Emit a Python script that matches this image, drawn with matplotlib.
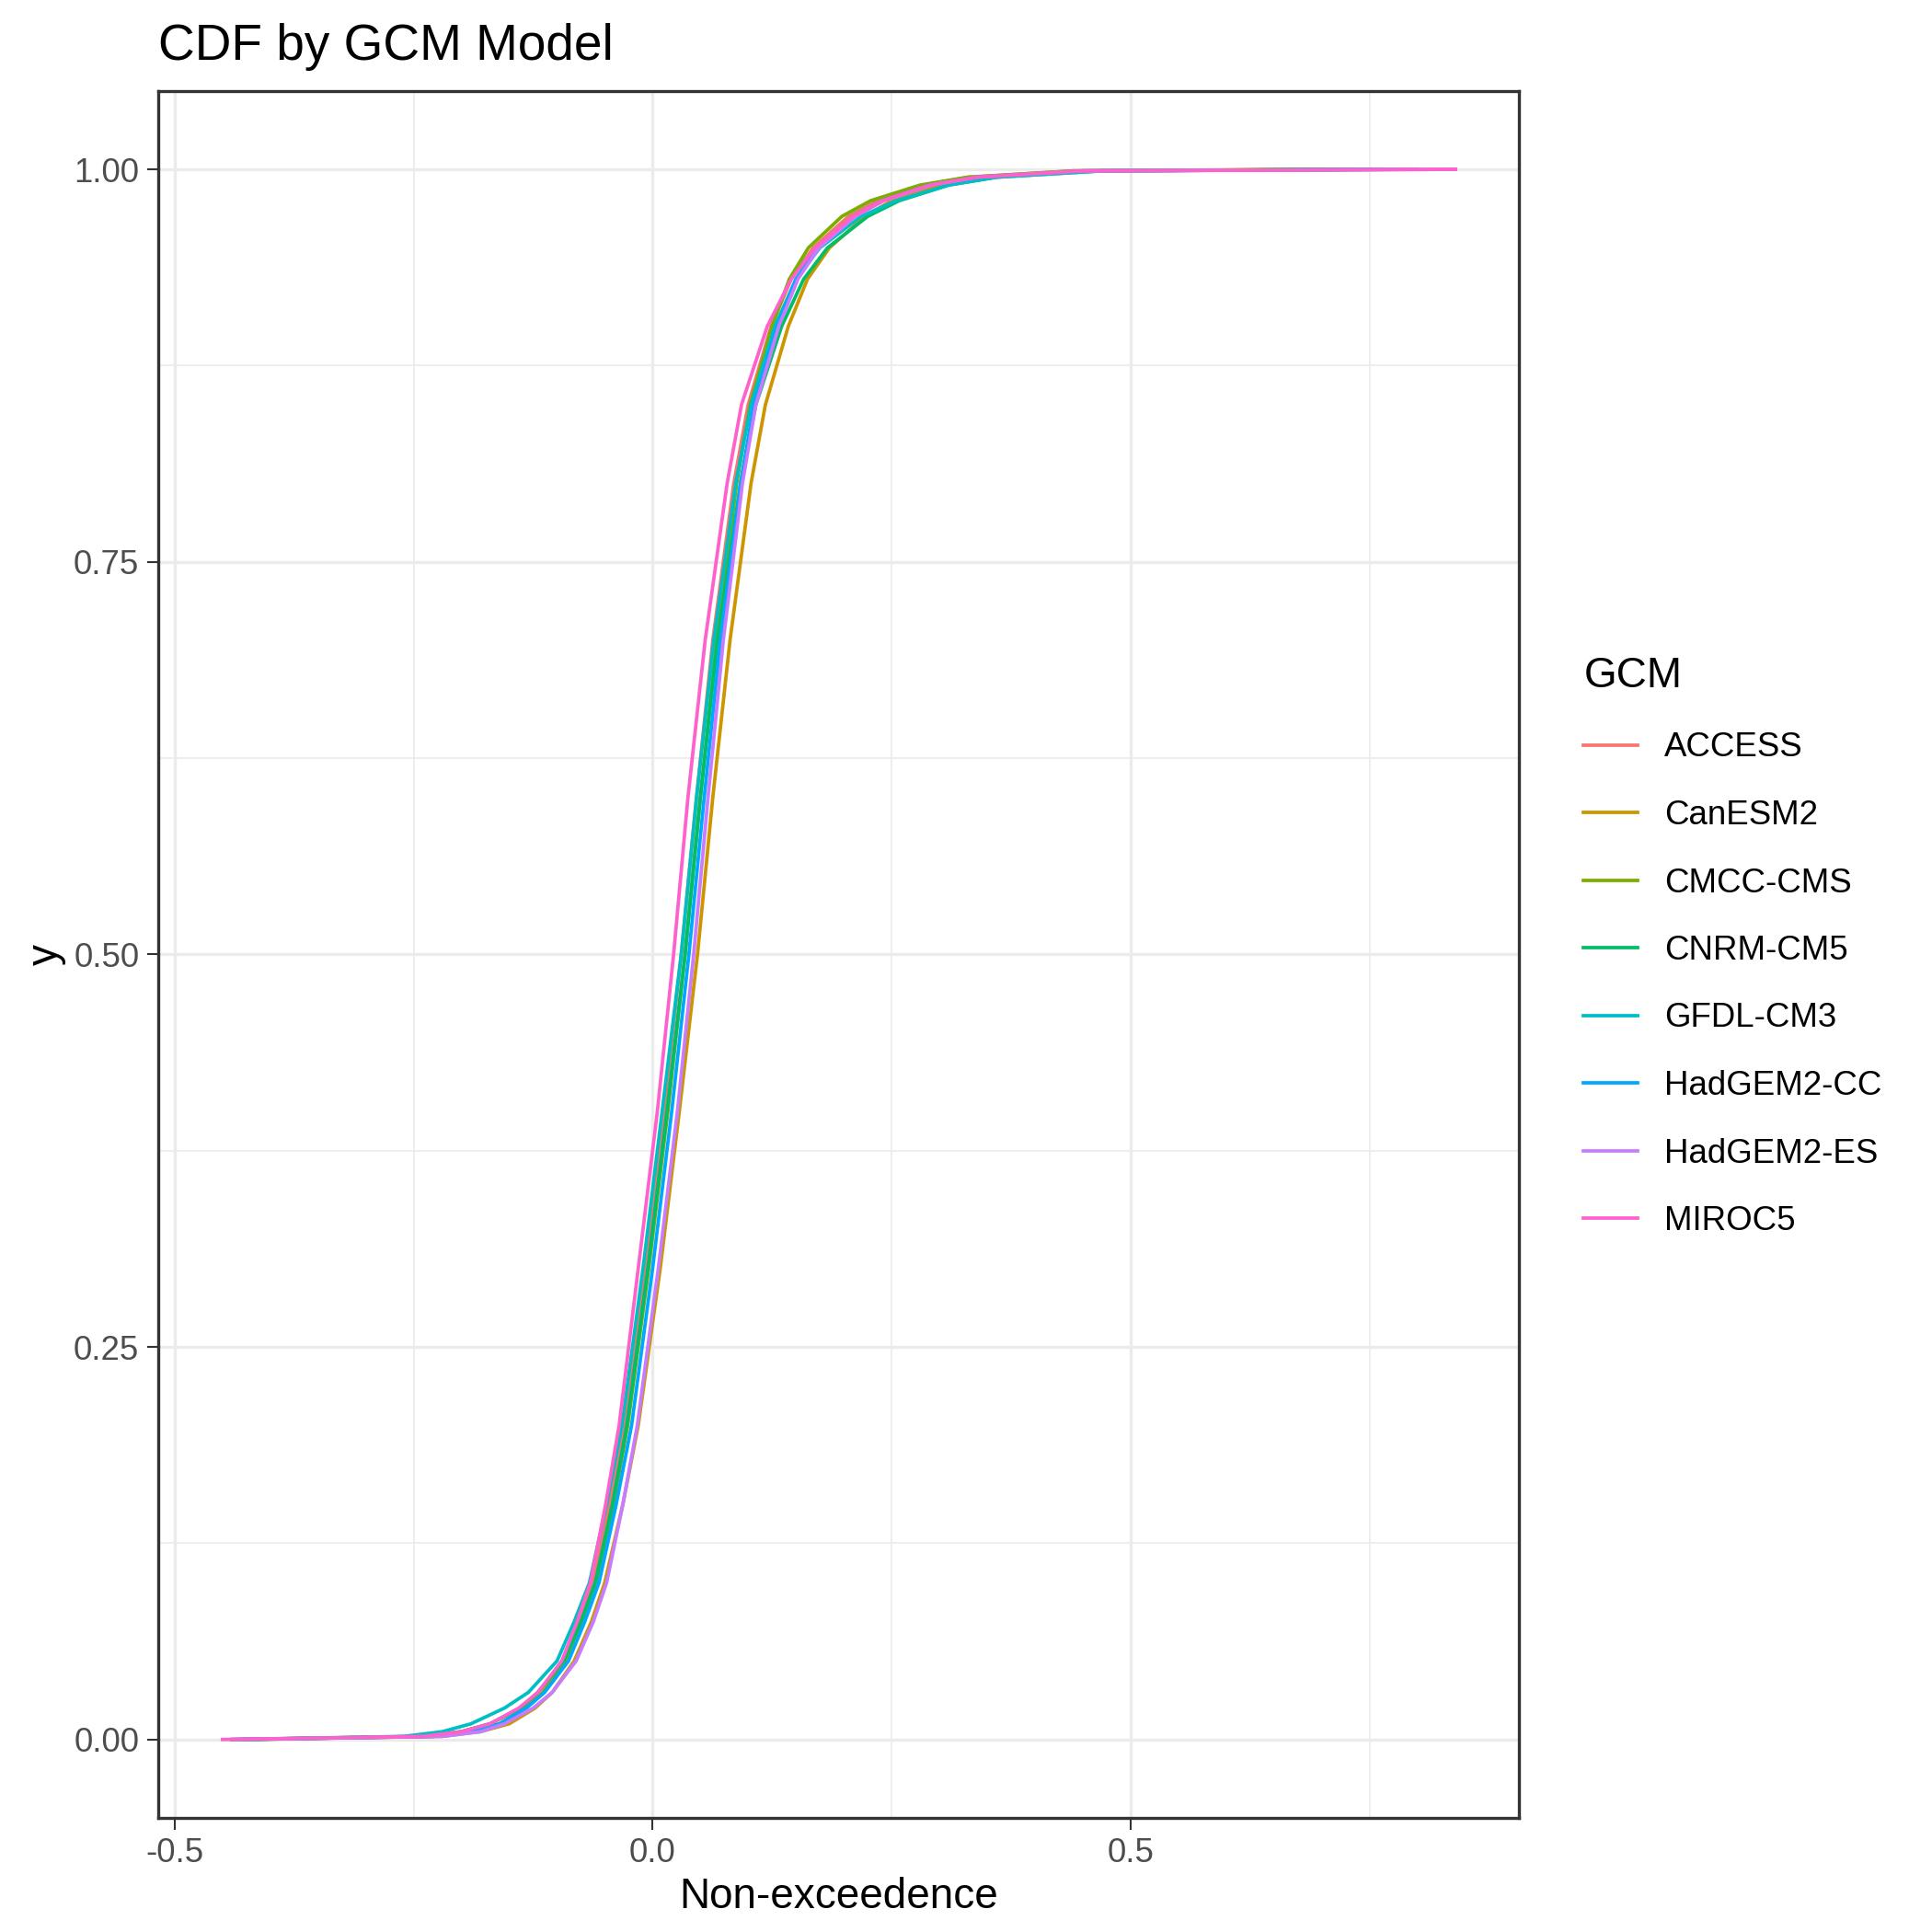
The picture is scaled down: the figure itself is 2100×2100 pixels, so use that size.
import matplotlib.pyplot as plt
import numpy as np

plt.rcParams["font.family"] = ["Liberation Sans", "DejaVu Sans"]

# quantile levels (non-exceedence probability)
levels = [0, 0.002, 0.005, 0.01, 0.02, 0.03, 0.05, 0.075, 0.1, 0.15, 0.2, 0.3,
          0.4, 0.5, 0.6, 0.7, 0.8, 0.85, 0.9, 0.93, 0.95, 0.97, 0.98, 0.99,
          0.995, 0.999, 1]

models = ["ACCESS", "CanESM2", "CMCC-CMS", "CNRM-CM5", "GFDL-CM3",
          "HadGEM2-CC", "HadGEM2-ES", "MIROC5"]
colors = ["#F8766D", "#CD9600", "#7CAE00", "#00BE67", "#00BFC4",
          "#00A9FF", "#C77CFF", "#FF61CC"]

access = [-0.43, -0.24, -0.20, -0.17, -0.138, -0.12, -0.093, -0.076, -0.062, -0.045, -0.03, -0.008, 0.012, 0.03, 0.046, 0.063, 0.085, 0.1, 0.124, 0.145, 0.168, 0.205, 0.235, 0.285, 0.33, 0.44, 0.75]
canesm2 = [-0.44, -0.22, -0.18, -0.15, -0.123, -0.105, -0.082, -0.064, -0.05, -0.031, -0.015, 0.008, 0.028, 0.047, 0.063, 0.081, 0.103, 0.118, 0.142, 0.162, 0.185, 0.222, 0.25, 0.3, 0.35, 0.46, 0.72]
cmcc_cms = [-0.42, -0.23, -0.19, -0.16, -0.133, -0.115, -0.09, -0.073, -0.058, -0.041, -0.026, -0.004, 0.016, 0.034, 0.05, 0.067, 0.088, 0.102, 0.125, 0.143, 0.163, 0.198, 0.228, 0.28, 0.33, 0.44, 0.7]
cnrm_cm5 = [-0.44, -0.24, -0.20, -0.17, -0.138, -0.12, -0.093, -0.075, -0.06, -0.042, -0.027, -0.005, 0.015, 0.034, 0.05, 0.068, 0.092, 0.108, 0.135, 0.158, 0.183, 0.225, 0.258, 0.31, 0.36, 0.47, 0.76]
gfdl_cm3 = [-0.44, -0.26, -0.22, -0.19, -0.155, -0.13, -0.1, -0.082, -0.066, -0.048, -0.032, -0.01, 0.01, 0.03, 0.046, 0.064, 0.087, 0.103, 0.128, 0.15, 0.175, 0.218, 0.255, 0.31, 0.36, 0.47, 0.78]
hadgem2_cc = [-0.43, -0.23, -0.19, -0.16, -0.132, -0.113, -0.088, -0.071, -0.056, -0.038, -0.022, 0.0, 0.02, 0.038, 0.054, 0.071, 0.092, 0.106, 0.13, 0.15, 0.172, 0.21, 0.24, 0.29, 0.34, 0.45, 0.8]
hadgem2_es = [-0.44, -0.22, -0.18, -0.155, -0.125, -0.105, -0.08, -0.062, -0.048, -0.031, -0.016, 0.006, 0.026, 0.043, 0.058, 0.074, 0.094, 0.108, 0.132, 0.152, 0.174, 0.212, 0.242, 0.292, 0.34, 0.45, 0.84]
miroc5 = [-0.45, -0.24, -0.20, -0.17, -0.14, -0.12, -0.095, -0.079, -0.065, -0.049, -0.035, -0.015, 0.005, 0.022, 0.037, 0.055, 0.078, 0.093, 0.12, 0.145, 0.17, 0.21, 0.24, 0.29, 0.34, 0.45, 0.84]

series = [access, canesm2, cmcc_cms, cnrm_cm5, gfdl_cm3, hadgem2_cc, hadgem2_es, miroc5]

fig = plt.figure(figsize=(7, 7), dpi=300)
ax = fig.add_axes([0.082, 0.059, 0.704, 0.894])

for name, col, xs in zip(models, colors, series):
    ax.plot(xs, levels, color=col, lw=0.9, label=name, zorder=3)

ax.set_xlim(-0.517, 0.906)
ax.set_ylim(-0.05, 1.05)
ax.set_xticks([-0.5, 0.0, 0.5])
ax.set_xticklabels(["-0.5", "0.0", "0.5"])
ax.set_yticks([0, 0.25, 0.5, 0.75, 1.0])
ax.set_yticklabels(["0.00", "0.25", "0.50", "0.75", "1.00"])
ax.set_xticks([-0.25, 0.25, 0.75], minor=True)
ax.set_yticks([0.125, 0.375, 0.625, 0.875], minor=True)
ax.grid(which="major", color="#EBEBEB", lw=0.8, zorder=0)
ax.grid(which="minor", color="#EBEBEB", lw=0.4, zorder=0)
ax.set_axisbelow(True)
ax.tick_params(which="major", length=3, width=0.5, color="#333333",
               labelsize=8.8, labelcolor="#4D4D4D", pad=2)
ax.tick_params(which="minor", length=0)
for sp in ax.spines.values():
    sp.set_color("#333333")
    sp.set_linewidth(0.8)

ax.set_xlabel("Non-exceedence", fontsize=11, labelpad=2)
ax.set_ylabel("y", fontsize=11, labelpad=2)
ax.set_title("CDF by GCM Model", fontsize=13.2, loc="left", pad=8)

leg = fig.legend(loc="center left", bbox_to_anchor=(0.804, 0.51), frameon=False,
                 title="GCM", fontsize=8.8, title_fontsize=11,
                 handlelength=1.6, labelspacing=1.05, alignment="left")

fig.savefig("out.png", dpi=300)
